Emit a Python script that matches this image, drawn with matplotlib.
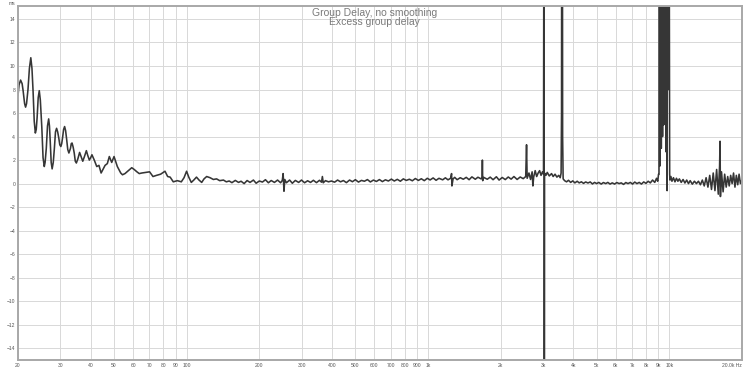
import matplotlib.pyplot as plt

# Group delay, split into three bands
freq_low = [20.0, 20.2, 20.5, 20.8, 21.0, 21.3, 21.5, 21.7, 22.0, 22.3, 22.6, 22.85, 23.1, 23.35,
            23.6, 23.8, 24.0, 24.25, 24.5, 24.75, 25.1, 25.4, 25.7, 25.9, 26.2, 26.5, 26.8, 27.0,
            27.2, 27.45, 27.7, 28.0, 28.3, 28.6, 28.9, 29.2, 29.5, 29.8, 30.1, 30.35, 30.6, 30.9,
            31.2, 31.5, 31.8, 32.15, 32.5, 32.75, 33.0, 33.25, 33.5, 33.85, 34.2, 34.55, 34.9,
            35.4, 36.0, 36.5, 37.1, 37.7, 38.4, 38.9, 39.5, 40.0, 40.5, 41.4, 42.4, 43.3, 44.2,
            45.0, 45.9, 46.9, 47.8, 48.9, 50.0, 51.6, 53.3, 54.2, 55.5, 57.3, 59.2, 60.6, 62.2,
            63.6, 65.2, 67.6, 70.2, 72.5, 75.0, 78.0, 81.3, 83.4, 85.4, 88.0, 91.5, 95.0, 97.5,
            99.9, 102.0, 104.5, 107.0, 109.8, 112.5, 115.4, 118.0, 121.0, 125.0, 129.0, 133.0,
            137.0, 142.0, 146.0]
delay_low = [7.5, 8.4, 8.8, 8.5, 7.9, 6.8, 6.5, 6.8, 8.0, 9.8, 10.7, 9.8, 7.8, 5.3,
             4.3, 4.6, 5.6, 7.3, 7.9, 7.1, 4.8, 2.2, 1.45, 1.8, 3.0, 4.9, 5.5, 4.9,
             3.6, 1.8, 1.25, 1.8, 3.0, 4.4, 4.7, 4.4, 3.9, 3.3, 3.15, 3.4, 3.9, 4.6,
             4.85, 4.5, 3.8, 2.9, 2.6, 2.8, 3.0, 3.4, 3.45, 3.1, 2.6, 1.9, 1.75,
             2.1, 2.65, 2.3, 1.9, 2.3, 2.8, 2.4, 2.0, 2.2, 2.45, 2.0, 1.45, 1.55, 0.9,
             1.2, 1.55, 1.7, 2.3, 1.8, 2.3, 1.45, 0.9, 0.75, 0.85, 1.1, 1.35, 1.2, 1.0,
             0.85, 0.9, 0.95, 1.0, 0.6, 0.7, 0.8, 1.05, 0.6, 0.55, 0.15, 0.25, 0.15, 0.5,
             1.05, 0.55, 0.1, 0.3, 0.55, 0.3, 0.1, 0.4, 0.6, 0.5, 0.35, 0.4,
             0.25, 0.3, 0.15]

freq_mid = [150, 154, 159, 164, 168, 173, 178, 183, 189, 194, 200, 206, 212, 218, 224, 231,
            238, 245, 249, 251, 253, 255, 259, 267, 274, 282, 291, 299, 308, 317, 326, 335,
            345, 355, 362, 365, 368, 376, 387, 398, 410, 422, 434, 446, 459, 473, 486, 500,
            515, 530, 545, 561, 577, 594, 611, 629, 647, 666, 685, 705, 725, 746, 768, 790,
            813, 837, 861, 886, 912, 938, 965, 993, 1020, 1050, 1080, 1110, 1150, 1180, 1210,
            1240, 1252, 1256, 1270, 1290, 1320, 1360, 1400, 1440, 1480, 1520, 1570, 1610, 1660,
            1675, 1680, 1685, 1700, 1760, 1810, 1860, 1920, 1970, 2030, 2090, 2150, 2210, 2270,
            2340, 2410, 2480, 2540, 2560, 2575, 2620, 2660, 2700, 2720, 2740, 2780, 2820, 2860,
            2900, 2940, 2980, 3010, 3028, 3032, 3040, 3080, 3120, 3180, 3250, 3300, 3360, 3420,
            3480, 3530, 3560, 3575, 3585, 3600, 3612, 3630, 3680]
delay_mid = [0.22, 0.08, 0.27, 0.1, 0.2, 0.0, 0.26, 0.1, 0.3, 0.03, 0.22, 0.13, 0.33, 0.07, 0.26, 0.1,
             0.3, 0.07, 0.27, 0.85, -0.65, 0.35, 0.07, 0.3, 0.03, 0.27, 0.1, 0.3, 0.07, 0.24, 0.1, 0.28,
             0.08, 0.28, 0.12, 0.6, 0.07, 0.25, 0.15, 0.22, 0.12, 0.3, 0.15, 0.26, 0.08, 0.3, 0.16, 0.33,
             0.13, 0.27, 0.2, 0.34, 0.14, 0.3, 0.18, 0.34, 0.17, 0.32, 0.22, 0.38, 0.22, 0.36, 0.2, 0.4,
             0.27, 0.37, 0.24, 0.43, 0.27, 0.41, 0.25, 0.45, 0.31, 0.48, 0.28, 0.45, 0.32, 0.49, 0.32,
             0.45, 0.85, -0.2, 0.4, 0.53, 0.33, 0.5, 0.37, 0.53, 0.33, 0.57, 0.37, 0.54, 0.4,
             0.5, 2.0, 0.25, 0.53, 0.37, 0.55, 0.33, 0.58, 0.3, 0.52, 0.34, 0.56, 0.38, 0.6,
             0.35, 0.56, 0.42, 0.6, 3.3, 0.45, 0.9, 0.35, 1.0, -0.2, 0.55, 1.1, 0.6, 0.9,
             1.1, 0.7, 1.0, 0.8, 40.0, -40.0, 0.9, 0.7, 0.95, 0.65, 0.85, 0.6, 0.8, 0.55,
             0.7, 0.5, 0.9, 6.0, 40.0, 40.0, 4.0, 0.4, 0.25]

freq_high = [3750, 3820, 3900, 3980, 4060, 4150, 4230, 4320, 4410, 4500, 4600, 4700, 4800, 4900,
             5000, 5100, 5220, 5330, 5450, 5560, 5680, 5800, 5930, 6060, 6190, 6320, 6460, 6600,
             6740, 6890, 7040, 7190, 7340, 7500, 7660, 7830, 8000, 8170, 8340, 8520, 8700, 8850,
             8950, 9020, 9060, 9080, 9150, 9200, 9260, 9310, 9370, 9420, 9480, 9530, 9600, 9640,
             9690, 9740, 9790, 9830, 9900, 9950, 10030, 10060, 10150, 10250, 10400, 10550, 10700,
             10850, 11000, 11200, 11400, 11600, 11800, 12000, 12200, 12450, 12700, 12950, 13200,
             13450, 13700, 13950, 14200, 14450, 14700, 14950, 15200, 15450, 15700, 15950, 16150,
             16220, 16280, 16450, 16700, 16950, 17200, 17450, 17700, 17950, 18200, 18450, 18700,
             18950, 19200, 19450, 19700, 20000]
delay_high = [0.15, 0.28, 0.1, 0.23, 0.06, 0.2, 0.06, 0.15, 0.02, 0.14, 0.05, 0.14, -0.03, 0.1,
              0.0, 0.1, -0.04, 0.09, 0.0, 0.1, -0.04, 0.06, -0.04, 0.09, 0.0, 0.06, -0.07, 0.09,
              0.0, 0.1, -0.04, 0.13, 0.0, 0.1, -0.04, 0.14, 0.02, 0.2, 0.06, 0.3, 0.1, 0.45,
              0.2, 0.8, 0.8, 40.0, 1.5, 40.0, 3.0, 40.0, 4.0, 40.0, 5.0, 40.0, 6.0, 40.0,
              2.7, 40.0, -0.6, 40.0, 8.0, 40.0, 0.8, 0.3, 0.6, 0.2, 0.5, 0.15, 0.45,
              0.2, 0.4, 0.1, 0.35, 0.05, 0.3, 0.0, 0.25, -0.05, 0.2, 0.0, 0.2,
              -0.1, 0.3, -0.2, 0.5, -0.3, 0.7, -0.5, 0.9, -0.6, 1.2, -0.9, 1.5,
              3.6, -1.1, 1.0, -0.7, 0.8, -0.3, 0.6, -0.2, 0.7, 0.0, 0.9, -0.3,
              0.7, -0.1, 0.8, 0.0, 0.35]

x_ticks = [20, 30, 40, 50, 60, 70, 80, 90, 100, 200, 300, 400, 500, 600, 700, 800, 900, 1000,
           2000, 3000, 4000, 5000, 6000, 7000, 8000, 9000, 10000, 20000]
x_labels = ['20', '30', '40', '50', '60', '70', '80', '90', '100', '200', '300', '400', '500',
            '600', '700', '800', '900', '1k', '2k', '3k', '4k', '5k', '6k', '7k', '8k', '9k',
            '10k', '20.0k Hz']
y_ticks = [-14, -12, -10, -8, -6, -4, -2, 0, 2, 4, 6, 8, 10, 12, 14]

plt.rcParams['font.family'] = ['Liberation Sans', 'DejaVu Sans']

fig = plt.figure(figsize=(7.5, 3.71), dpi=100)
ax = fig.add_axes([18 / 750, 11 / 371, 724 / 750, 354 / 371])

freq = freq_low + freq_mid + freq_high
delay = delay_low + delay_mid + delay_high
ax.plot(freq, delay, color='#363636', lw=1.15)

ax.set_xscale('log')
ax.set_xlim(20, 20000)
ax.set_ylim(-15, 15.1)
ax.set_xticks(x_ticks)
ax.set_xticklabels(x_labels)
ax.xaxis.set_minor_locator(plt.NullLocator())
ax.set_yticks(y_ticks)
ax.tick_params(length=0, labelsize=3.6, labelcolor='#555555', pad=2)
ax.get_xticklabels()[-1].set_ha('right')
ax.grid(True, color='#d8d8d8', lw=0.7)
ax.set_axisbelow(True)
for s in ax.spines.values():
    s.set_color('#a8a8a8')
    s.set_linewidth(1.4)

ax.text(-0.009, 1.0, 'ms', transform=ax.transAxes, fontsize=3.6, color='#555555',
        ha='center', va='bottom')
ax.text(0.493, 0.995, 'Group Delay, no smoothing\nExcess group delay', transform=ax.transAxes,
        fontsize=7.5, color='#7a7a7a', ha='center', va='top', linespacing=0.95)

fig.savefig('out.png', dpi=100, facecolor='white')
